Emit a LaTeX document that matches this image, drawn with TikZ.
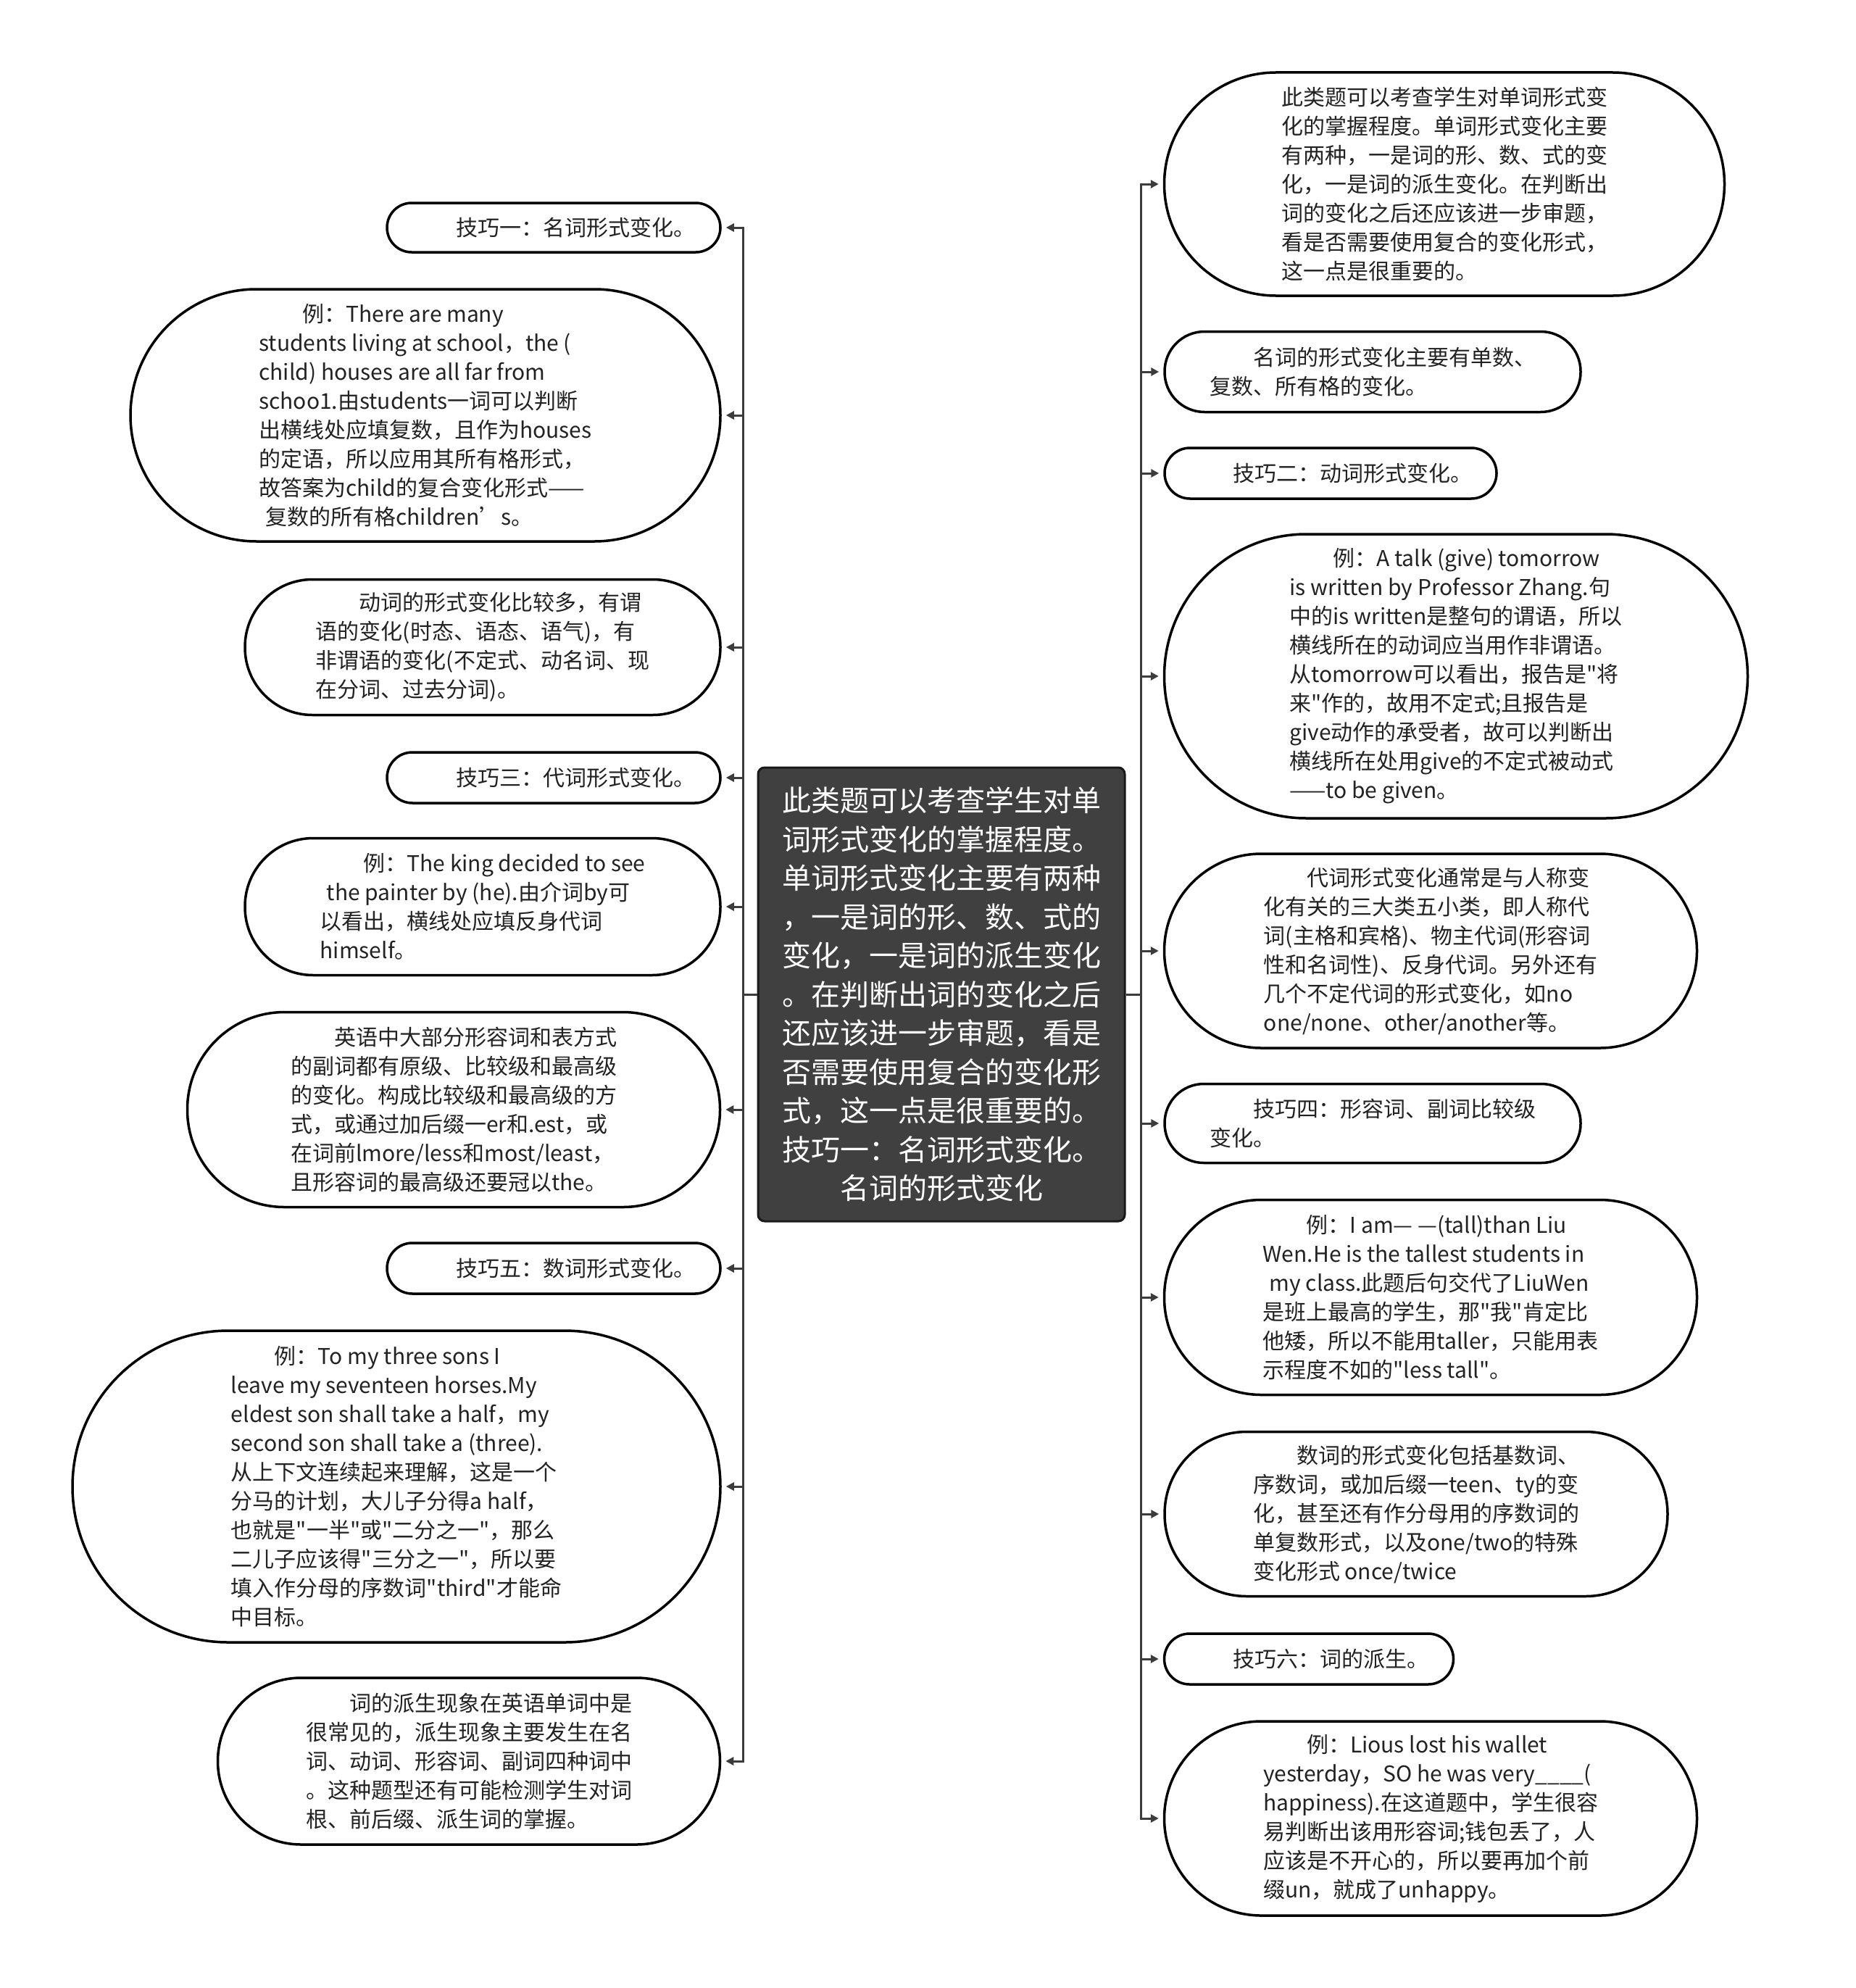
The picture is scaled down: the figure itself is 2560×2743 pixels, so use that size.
\documentclass[tikz,border=0pt]{standalone}
\usepackage{fontspec}
\setmainfont{Noto Sans CJK SC}[Ligatures=TeXOff]
\usetikzlibrary{arrows.meta}
\definecolor{conncol}{HTML}{3C3C3C}
\definecolor{rootfill}{HTML}{404040}
\definecolor{txtcol}{HTML}{222222}
\tikzset{
  leaf/.style={draw=black, line width=3.5pt, fill=white, text=txtcol, align=left,
    font=\fontsize{30}{40}\selectfont, inner sep=0pt},
  rootbox/.style={draw=black!90, line width=3pt, fill=rootfill, text=white, align=center,
    font=\fontsize{40}{53.5}\selectfont, inner sep=0pt, rounded corners=9pt,
    minimum width=506pt, minimum height=626pt},
  conn/.style={draw=conncol, line width=3pt, -{Triangle[length=11pt,width=11pt]}, shorten >=6pt},
  trunk/.style={draw=conncol, line width=3pt}
}
\newcommand{\ind}{\hspace*{2em}}
\begin{document}
\begin{tikzpicture}[x=1pt,y=-1pt]
\useasboundingbox (0,0) rectangle (2560,2743);

% root
\node[rootbox] (c) at (1299,1372) {此类题可以考查学生对单\\词形式变化的掌握程度。\\单词形式变化主要有两种\\，一是词的形、数、式的\\变化，一是词的派生变化\\。在判断出词的变化之后\\还应该进一步审题，看是\\否需要使用复合的变化形\\式，这一点是很重要的。\\技巧一：名词形式变化。\\名词的形式变化};

% left nodes
\node[leaf, minimum width=460pt, minimum height=68pt, rounded corners=34pt] (l1) at (764,314)
 {\ind 技巧一：名词形式变化。};
\node[leaf, minimum width=814pt, minimum height=348pt, rounded corners=174pt] (l2) at (587,573)
 {\ind 例：There are many\\students living at school，the (\\child) houses are all far from\\schoo1.由students一词可以判断\\出横线处应填复数，且作为houses\\的定语，所以应用其所有格形式，\\故答案为child的复合变化形式——\\\hspace*{.3em}复数的所有格children’s。};
\node[leaf, minimum width=656pt, minimum height=187pt, rounded corners=93pt] (l3) at (666,893)
 {\ind 动词的形式变化比较多，有谓\\语的变化(时态、语态、语气)，有\\非谓语的变化(不定式、动名词、现\\在分词、过去分词)。};
\node[leaf, minimum width=460pt, minimum height=70pt, rounded corners=35pt] (l4) at (764,1073)
 {\ind 技巧三：代词形式变化。};
\node[leaf, minimum width=656pt, minimum height=189pt, rounded corners=94pt] (l5) at (666,1251)
 {\ind 例：The king decided to see\\\hspace*{.3em}the painter by (he).由介词by可\\以看出，横线处应填反身代词\\himself。};
\node[leaf, minimum width=735pt, minimum height=269pt, rounded corners=134pt] (l6) at (626,1531)
 {\ind 英语中大部分形容词和表方式\\的副词都有原级、比较级和最高级\\的变化。构成比较级和最高级的方\\式，或通过加后缀一er和.est，或\\在词前lmore/less和most/least，\\且形容词的最高级还要冠以the。};
\node[leaf, minimum width=460pt, minimum height=70pt, rounded corners=35pt] (l7) at (764,1750)
 {\ind 技巧五：数词形式变化。};
\node[leaf, minimum width=894pt, minimum height=430pt, rounded corners=215pt] (l8) at (547,2051)
 {\ind 例：To my three sons I\\leave my seventeen horses.My\\eldest son shall take a half，my\\second son shall take a (three).\\从上下文连续起来理解，这是一个\\分马的计划，大儿子分得a half，\\也就是"一半"或"二分之一"，那么\\二儿子应该得"三分之一"，所以要\\填入作分母的序数词"third"才能命\\中目标。};
\node[leaf, minimum width=693pt, minimum height=230pt, rounded corners=115pt] (l9) at (647,2430)
 {\ind 词的派生现象在英语单词中是\\很常见的，派生现象主要发生在名\\词、动词、形容词、副词四种词中\\。这种题型还有可能检测学生对词\\根、前后缀、派生词的掌握。};

% right nodes
\node[leaf, minimum width=773pt, minimum height=308pt, rounded corners=154pt] (r1) at (1993,254)
 {此类题可以考查学生对单词形式变\\化的掌握程度。单词形式变化主要\\有两种，一是词的形、数、式的变\\化，一是词的派生变化。在判断出\\词的变化之后还应该进一步审题，\\看是否需要使用复合的变化形式，\\这一点是很重要的。};
\node[leaf, minimum width=574pt, minimum height=111pt, rounded corners=55pt] (r2) at (1894,513)
 {\ind 名词的形式变化主要有单数、\\复数、所有格的变化。};
\node[leaf, minimum width=458pt, minimum height=70pt, rounded corners=35pt] (r3) at (1836,653)
 {\ind 技巧二：动词形式变化。};
\node[leaf, minimum width=805pt, minimum height=392pt, rounded corners=196pt] (r4) at (2009,933)
 {\ind 例：A talk (give) tomorrow\\is written by Professor Zhang.句\\中的is written是整句的谓语，所以\\横线所在的动词应当用作非谓语。\\从tomorrow可以看出，报告是"将\\来"作的，故用不定式;且报告是\\give动作的承受者，故可以判断出\\横线所在处用give的不定式被动式\\——to be given。};
\node[leaf, minimum width=735pt, minimum height=268pt, rounded corners=134pt] (r5) at (1974,1312)
 {\ind 代词形式变化通常是与人称变\\化有关的三大类五小类，即人称代\\词(主格和宾格)、物主代词(形容词\\性和名词性)、反身代词。另外还有\\几个不定代词的形式变化，如no\\one/none、other/another等。};
\node[leaf, minimum width=574pt, minimum height=109pt, rounded corners=54pt] (r6) at (1894,1550)
 {\ind 技巧四：形容词、副词比较级\\变化。};
\node[leaf, minimum width=735pt, minimum height=269pt, rounded corners=134pt] (r7) at (1974,1790)
 {\ind 例：I am— —(tall)than Liu\\Wen.He is the tallest students in\\\hspace*{.3em}my class.此题后句交代了LiuWen\\是班上最高的学生，那"我"肯定比\\他矮，所以不能用taller，只能用表\\示程度不如的"less tall"。};
\node[leaf, minimum width=694pt, minimum height=227pt, rounded corners=113pt] (r8) at (1954,2089)
 {\ind 数词的形式变化包括基数词、\\序数词，或加后缀一teen、ty的变\\化，甚至还有作分母用的序数词的\\单复数形式，以及one/two的特殊\\变化形式 once/twice};
\node[leaf, minimum width=399pt, minimum height=70pt, rounded corners=35pt] (r9) at (1806,2289)
 {\ind 技巧六：词的派生。};
\node[leaf, minimum width=735pt, minimum height=268pt, rounded corners=134pt] (r10) at (1974,2509)
 {\ind 例：Lious lost his wallet\\yesterday，SO he was very\_\_\_\_(\\happiness).在这道题中，学生很容\\易判断出该用形容词;钱包丢了，人\\应该是不开心的，所以要再加个前\\缀un，就成了unhappy。};

% connectors
\foreach \n in {l1,l2,l3,l4,l5,l6,l7,l8,l9}
  \draw[conn] (c.west) -- ++(-19pt,0pt) |- (\n.east);
\foreach \n in {r1,r2,r3,r4,r5,r6,r7,r8,r9,r10}
  \draw[conn] (c.east) -- ++(21pt,0pt) |- (\n.west);
\end{tikzpicture}
\end{document}
